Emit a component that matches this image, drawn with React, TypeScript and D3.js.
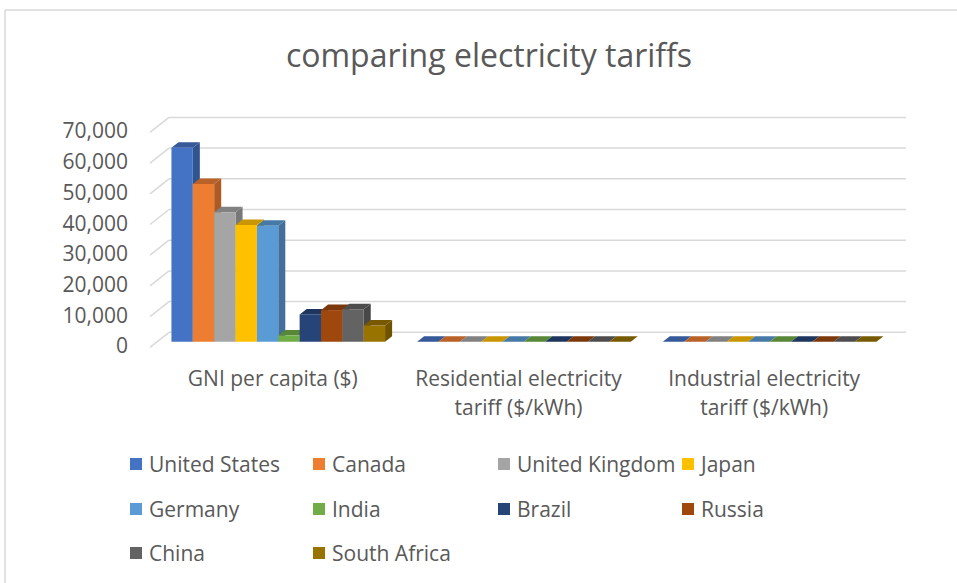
import React from "react";
import * as d3 from "d3";

const title = "comparing electricity tariffs";
const categoryLines: string[][] = [
  ["GNI per capita ($)"],
  ["Residential electricity", "tariff ($/kWh)"],
  ["Industrial electricity", "tariff ($/kWh)"],
];
const countries = [
  "United States", "Canada", "United Kingdom", "Japan", "Germany",
  "India", "Brazil", "Russia", "China", "South Africa",
];
const gniPerCapita = [63200, 51400, 42200, 38000, 37800, 2000, 8900, 10300, 10600, 5300];
const residentialTariff = [0.13, 0.1, 0.2, 0.23, 0.35, 0.08, 0.17, 0.05, 0.08, 0.1];
const industrialTariff = [0.07, 0.07, 0.13, 0.18, 0.17, 0.11, 0.14, 0.06, 0.1, 0.06];
const colors = [
  "#4472C4", "#ED7D31", "#A5A5A5", "#FFC000", "#5B9BD5",
  "#70AD47", "#264478", "#9E480E", "#636363", "#997300",
];
const yTicks = [0, 10000, 20000, 30000, 40000, 50000, 60000, 70000];

const W = 957;
const H = 583;
const FONT = "'Open Sans', sans-serif";
const TEXT = "#595959";
const GRID = "#D9D9D9";

export default function App() {
  const series = [gniPerCapita, residentialTariff, industrialTariff];
  const catKeys = categoryLines.map((l) => l.join(" "));

  const plotLeft = 150;
  const plotRight = 887;
  const depthDx = 19;
  const depthDy = 15;
  const dFront = 0.37;
  const dBack = 0.74;

  const y = d3.scaleLinear().domain([0, 70000]).range([347.3, 132.4]);
  const xCat = d3.scaleBand<string>().domain(catKeys).range([plotLeft, plotRight]).padding(0);

  const P = (x: number, v: number, d: number): [number, number] => [x + d * depthDx, y(v) - d * depthDy];
  const poly = (pts: [number, number][]) => pts.map((p) => p.join(",")).join(" ");

  const fmt = d3.format(",");

  const bars: JSX.Element[] = [];
  catKeys.forEach((ck, ci) => {
    const x0 = xCat(ck)!;
    const inner = d3
      .scaleBand<string>()
      .domain(countries)
      .range([x0, x0 + xCat.bandwidth()])
      .paddingInner(0)
      .paddingOuter(0.75)
      .align(0.45);
    countries.forEach((c, si) => {
      const v = series[ci][si];
      const xl = inner(c)!;
      const w = inner.bandwidth();
      const base = d3.color(colors[si])!;
      const topCol = base.darker(0.7).formatHex();
      const sideCol = base.darker(0.9).formatHex();
      bars.push(
        <g key={`${ci}-${si}`}>
          <polygon
            points={poly([P(xl + w, 0, dFront), P(xl + w, 0, dBack), P(xl + w, v, dBack), P(xl + w, v, dFront)])}
            fill={sideCol}
          />
          <polygon
            points={poly([P(xl, v, dFront), P(xl + w, v, dFront), P(xl + w, v, dBack), P(xl, v, dBack)])}
            fill={topCol}
          />
          <polygon
            points={poly([P(xl, 0, dFront), P(xl + w, 0, dFront), P(xl + w, v, dFront), P(xl, v, dFront)])}
            fill={colors[si]}
          />
        </g>
      );
    });
  });

  const legendCols = [130, 313, 498, 682];
  const legendRows = [464, 509, 553];

  return (
    <svg
      width={W}
      height={H}
      style={{ position: "absolute", left: 0, top: 0, background: "#fff" }}
      fontFamily={FONT}
    >
      <rect x={0} y={0} width={W} height={H} fill="#fff" />
      <line x1={5} y1={10} x2={W} y2={10} stroke={GRID} strokeWidth={1.5} />
      <line x1={5} y1={10} x2={5} y2={H} stroke={GRID} strokeWidth={1.5} />

      <text x={489} y={67} textAnchor="middle" fontSize={32} fill={TEXT}>
        {title}
      </text>

      {yTicks.map((t) => {
        const [fx, fy] = P(plotLeft, t, 0);
        const [bx, by] = P(plotLeft, t, 1);
        const [ex] = P(plotRight, t, 1);
        return (
          <g key={t}>
            <line x1={fx} y1={fy} x2={bx} y2={by} stroke={GRID} strokeWidth={1.5} />
            <line x1={bx} y1={by} x2={ex} y2={by} stroke={GRID} strokeWidth={1.5} />
            <text x={128} y={fy - 2} textAnchor="end" dominantBaseline="central" fontSize={21} fill={TEXT}>
              {fmt(t)}
            </text>
          </g>
        );
      })}

      {bars}

      {categoryLines.map((lines, ci) => {
        const cx = xCat(catKeys[ci])! + xCat.bandwidth() / 2;
        return (
          <text key={ci} textAnchor="middle" fontSize={21} fill={TEXT}>
            {lines.map((ln, li) => (
              <tspan key={li} x={cx} y={378 + li * 29} dominantBaseline="central">
                {ln}
              </tspan>
            ))}
          </text>
        );
      })}

      {countries.map((c, i) => {
        const col = i % 4;
        const row = Math.floor(i / 4);
        const lx = legendCols[col];
        const ly = legendRows[row];
        return (
          <g key={c}>
            <rect x={lx} y={ly - 6} width={12} height={12} fill={colors[i]} />
            <text x={lx + 19} y={ly} dominantBaseline="central" fontSize={21} fill={TEXT}>
              {c}
            </text>
          </g>
        );
      })}
    </svg>
  );
}
